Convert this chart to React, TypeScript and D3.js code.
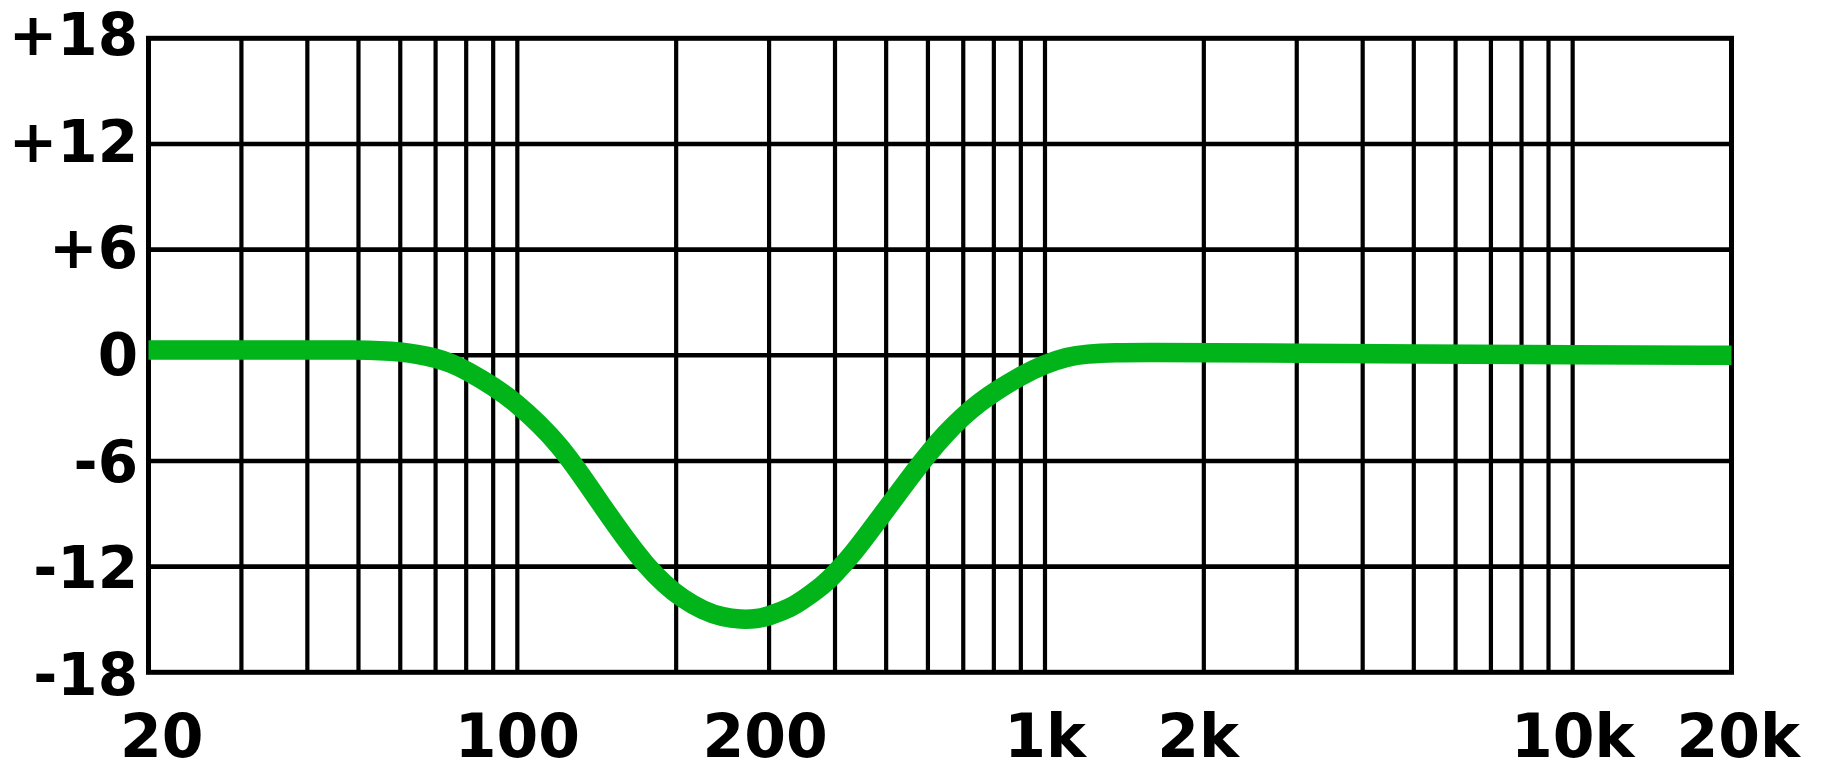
import React from "react";
import * as d3 from "d3";

// Frequency response of a parametric EQ cut (Hz → dB)
const freqHz = [
  20, 30, 40, 50, 55, 60, 65, 70, 75, 80, 90, 100, 110, 120, 130, 140, 150, 162,
  175, 190, 205, 225, 245, 265, 285, 300, 330, 353, 380, 400, 430, 460, 500, 546,
  600, 650, 700, 750, 800, 900, 1000, 1100, 1200, 1350, 1600, 2000, 3000, 5000,
  10000, 20000,
];
const gainDb = [
  0.3, 0.3, 0.3, 0.3, 0.27, 0.2, 0.05, -0.15, -0.45, -0.85, -1.75, -2.75, -3.9,
  -5.1, -6.5, -7.9, -9.2, -10.6, -11.9, -13.0, -13.8, -14.5, -14.88, -15.0,
  -14.97, -14.8, -14.35, -13.75, -13.05, -12.4, -11.35, -10.2, -8.75, -7.2, -5.6,
  -4.4, -3.45, -2.7, -2.1, -1.15, -0.5, -0.08, 0.08, 0.16, 0.17, 0.15, 0.12, 0.07,
  0.03, 0.0,
];

// Vertical grid lines (inner decades)
const gridFreqs = [
  30, 40, 50, 60, 70, 80, 90, 100, 200, 300, 400, 500, 600, 700, 800, 900, 1000,
  2000, 3000, 4000, 5000, 6000, 7000, 8000, 9000, 10000,
];
// Horizontal grid lines
const gridDb = [12, 6, 0, -6, -12];

// Axis labels
const yTickValues = [18, 12, 6, 0, -6, -12, -18];
const yTickLabels = ["+18", "+12", "+6", "0", "-6", "-12", "-18"];
const xTickLabels = ["20", "100", "200", "1k", "2k", "10k", "20k"];
const xTickAnchors = [21.2, 100, 295, 1000, 1950, 10000, 20600];

const W = 1822;
const H = 763;
const LEFT = 148.5;
const RIGHT = 1731.5;
const TOP = 38.3;
const BOTTOM = 672.3;

export default function App() {
  const x = d3.scaleLog().domain([20, 20000]).range([LEFT, RIGHT]);
  const y = d3.scaleLinear().domain([-18, 18]).range([BOTTOM, TOP]);
  const yLabel = d3.scaleLinear().domain([18, -18]).range([55, 695]);

  const points = freqHz.map((f, i) => [f, gainDb[i]] as [number, number]);
  const line = d3
    .line<[number, number]>()
    .x((d) => x(d[0]))
    .y((d) => y(d[1]))
    .curve(d3.curveBasis);

  const font = "'DejaVu Sans', sans-serif";

  return (
    <svg
      width={W}
      height={H}
      style={{ position: "absolute", left: 0, top: 0, display: "block", background: "#fff" }}
    >
      <rect x={0} y={0} width={W} height={H} fill="#fff" />
      <g stroke="#000" fill="none">
        {gridFreqs.map((f) => (
          <line key={"v" + f} x1={x(f)} x2={x(f)} y1={TOP} y2={BOTTOM} strokeWidth={4.2} />
        ))}
        {gridDb.map((d) => (
          <line key={"h" + d} x1={LEFT} x2={RIGHT} y1={y(d)} y2={y(d)} strokeWidth={4.6} />
        ))}
        <rect x={LEFT} y={TOP} width={RIGHT - LEFT} height={BOTTOM - TOP} strokeWidth={5} />
      </g>
      <path
        d={line(points) || ""}
        fill="none"
        stroke="#00b41a"
        strokeWidth={19.5}
        strokeLinecap="butt"
        strokeLinejoin="round"
      />
      <g fontFamily={font} fontWeight="bold" fill="#000">
        {yTickValues.map((v, i) => (
          <text key={"yl" + v} x={138} y={yLabel(v)} textAnchor="end" fontSize={58}>
            {yTickLabels[i]}
          </text>
        ))}
        {xTickLabels.map((t, i) => (
          <text key={"xl" + t} x={x(xTickAnchors[i])} y={757} textAnchor="middle" fontSize={60}>
            {t}
          </text>
        ))}
      </g>
    </svg>
  );
}
